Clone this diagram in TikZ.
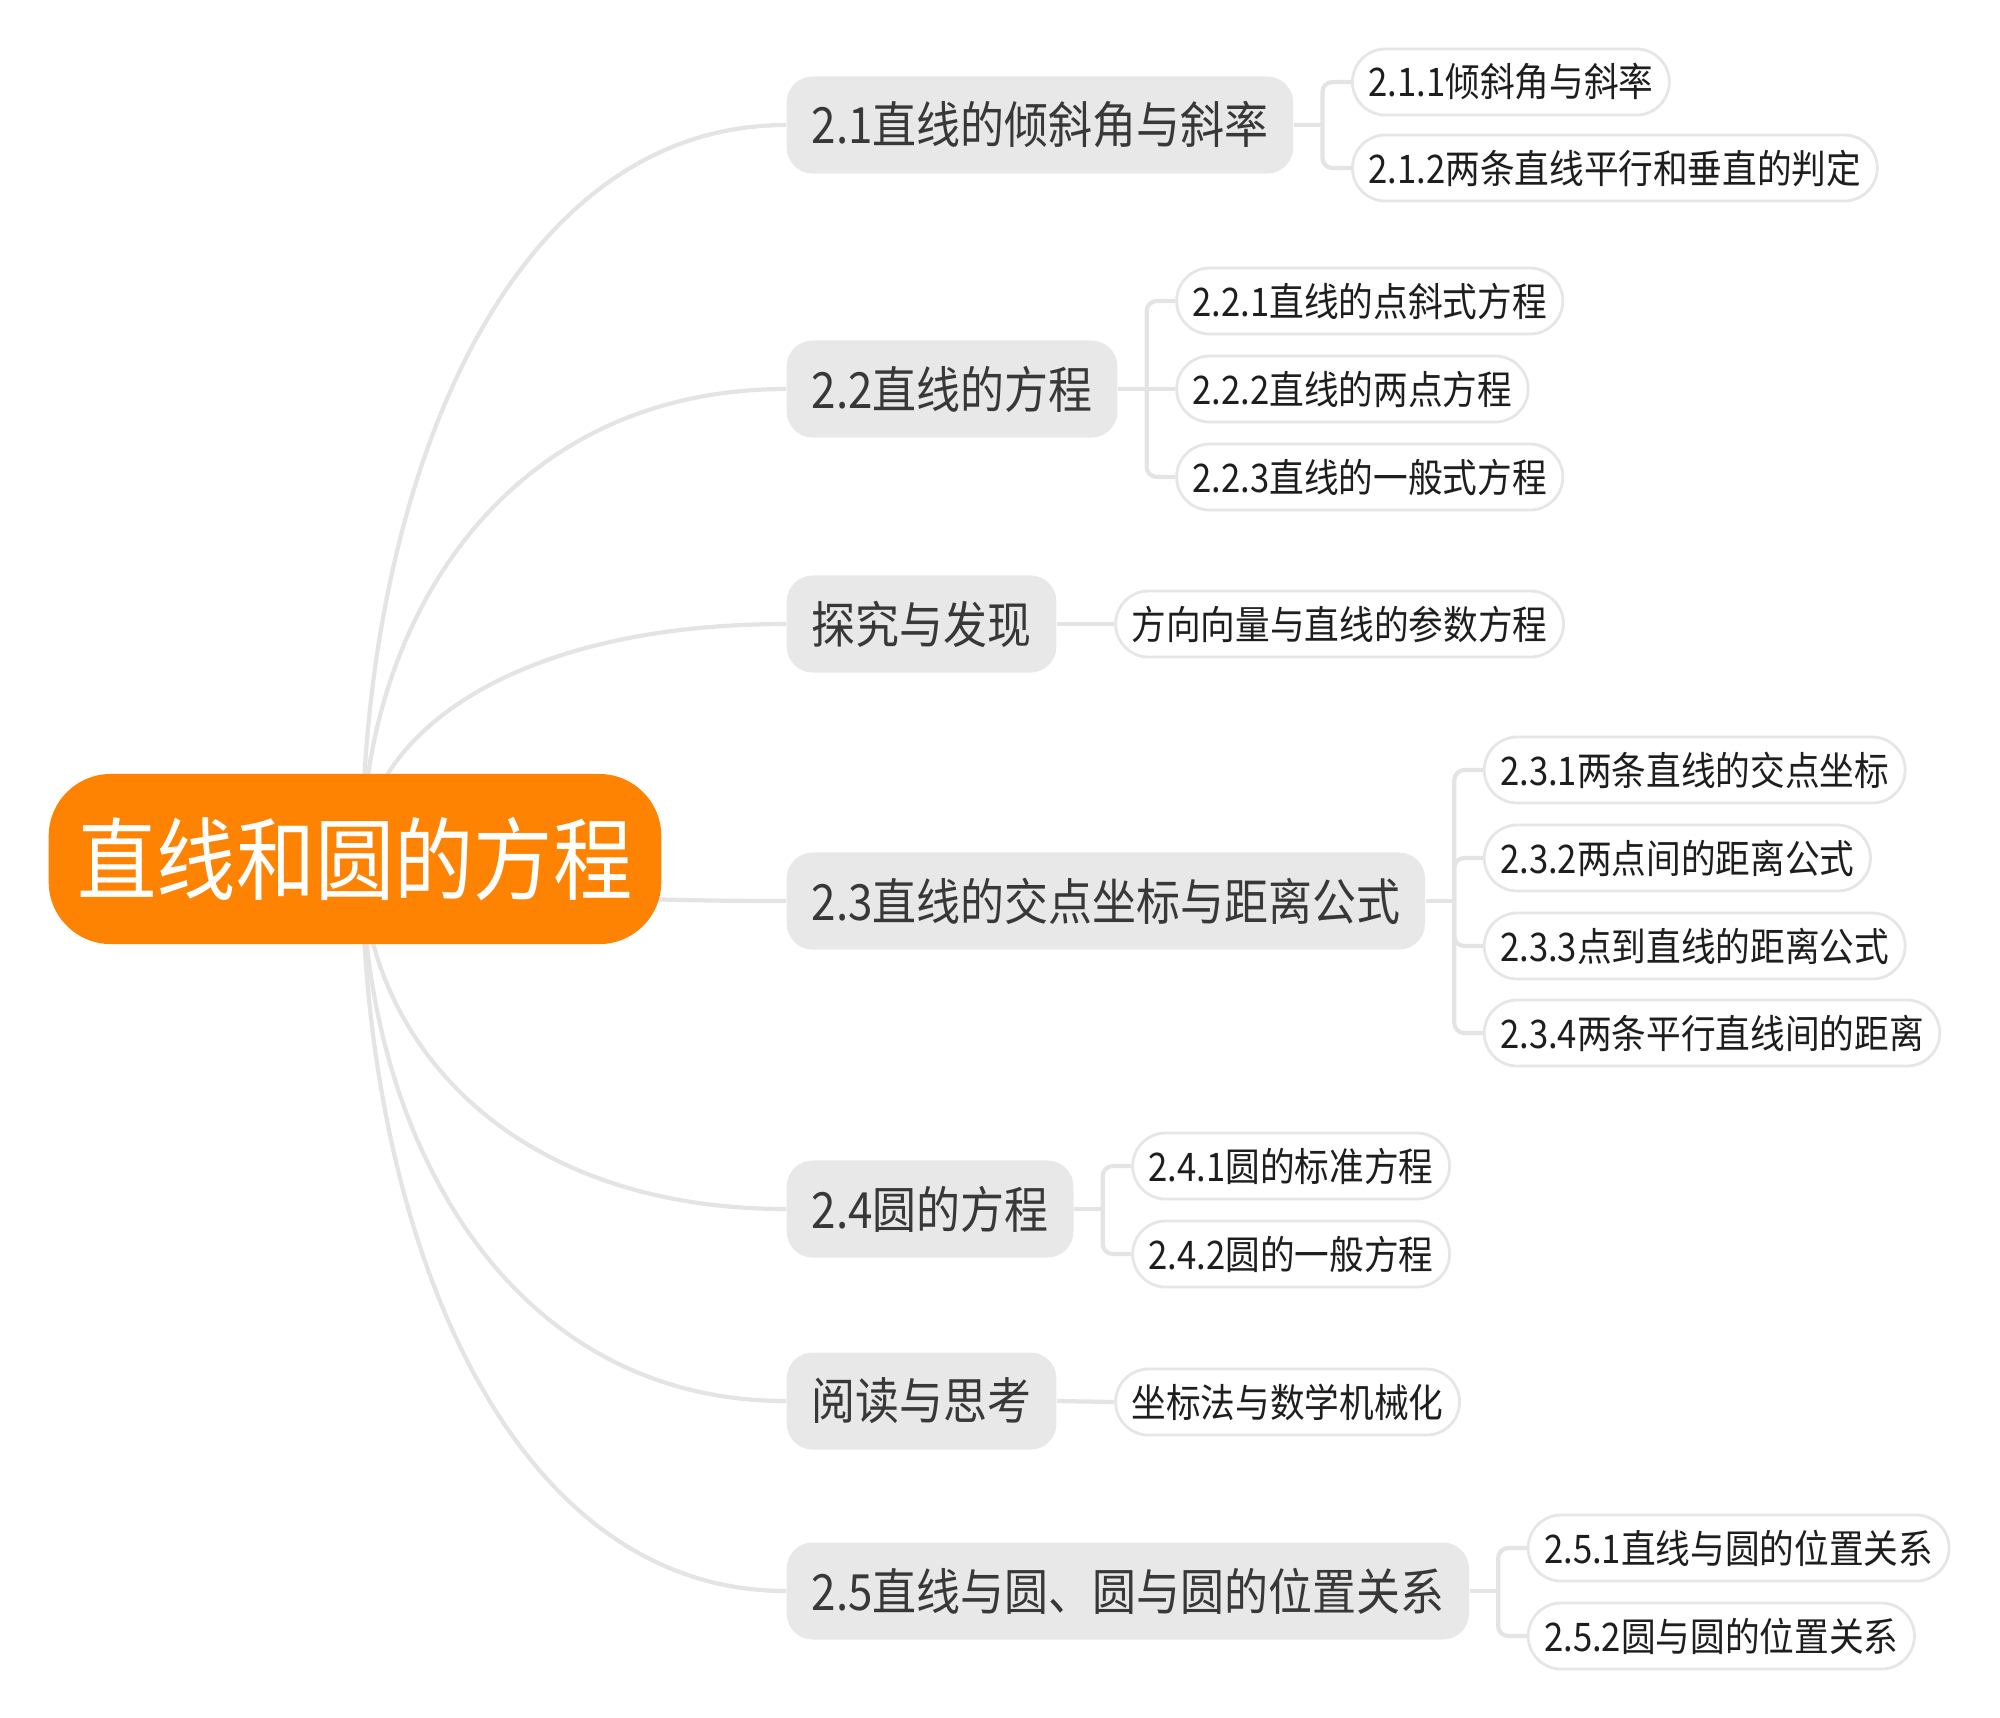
\documentclass[tikz,border=0pt]{standalone}
\usepackage{fontspec}
\newfontfamily\cjk[FakeStretch=0.88]{Noto Sans CJK SC}
\usetikzlibrary{backgrounds,calc}
\definecolor{rootorange}{HTML}{FF8303}
\definecolor{topicgray}{HTML}{E8E8E8}
\definecolor{linegray}{HTML}{E4E4E4}
\definecolor{leafborder}{HTML}{E6E6E6}
\definecolor{topictext}{HTML}{383838}
\definecolor{leaftext}{HTML}{1E1E1E}
\begin{document}
\begin{tikzpicture}[x=0.01cm,y=-0.01cm,
  rootbox/.style={fill=rootorange, rounded corners=0.62cm, minimum height=1.7cm, inner xsep=0.29cm, inner ysep=0pt, text=white, font=\cjk\fontsize{25.6pt}{28pt}\selectfont, anchor=west},
  topic/.style={fill=topicgray, rounded corners=0.26cm, minimum height=0.97cm, inner xsep=0.25cm, inner ysep=0pt, text=topictext, font=\cjk\fontsize{14.2pt}{16pt}\selectfont, anchor=west},
  leaf/.style={fill=white, draw=leafborder, line width=0.8pt, rounded corners=0.33cm, minimum height=0.66cm, inner xsep=0.16cm, inner ysep=0pt, text=leaftext, font=\cjk\fontsize{11.2pt}{13pt}\selectfont, anchor=west, xshift=0.285cm},
  conn/.style={draw=linegray, line width=1.2pt},
  bracket/.style={conn, rounded corners=0.1cm}]
\useasboundingbox (0,0) rectangle (2000,1717);

\node[rootbox] (root) at (48,859) {直线和圆的方程};
\coordinate (rs) at ([xshift=0.07cm]root.center);

\node[topic] (p21) at (786,125) {2.1直线的倾斜角与斜率};
\node[topic] (p22) at (786,389) {2.2直线的方程};
\node[topic] (p2x) at (786,624) {探究与发现};
\node[topic] (p23) at (786,901) {2.3直线的交点坐标与距离公式};
\node[topic] (p24) at (786,1209) {2.4圆的方程};
\node[topic] (p2y) at (786,1401) {阅读与思考};
\node[topic] (p25) at (786,1591) {2.5直线与圆、圆与圆的位置关系};

\coordinate (b21) at ([xshift=0.285cm]p21.east);
\coordinate (b22) at ([xshift=0.285cm]p22.east);
\coordinate (b2x) at ([xshift=0.285cm]p2x.east);
\coordinate (b23) at ([xshift=0.285cm]p23.east);
\coordinate (b24) at ([xshift=0.285cm]p24.east);
\coordinate (b2y) at ([xshift=0.285cm]p2y.east);
\coordinate (b25) at ([xshift=0.285cm]p25.east);

\node[leaf] (c211) at (b21 |- 0,82) {2.1.1倾斜角与斜率};
\node[leaf] (c212) at (b21 |- 0,168) {2.1.2两条直线平行和垂直的判定};
\node[leaf] (c221) at (b22 |- 0,301) {2.2.1直线的点斜式方程};
\node[leaf] (c222) at (b22 |- 0,389) {2.2.2直线的两点方程};
\node[leaf] (c223) at (b22 |- 0,477) {2.2.3直线的一般式方程};
\node[leaf] (c2x) at (b2x |- 0,624) {方向向量与直线的参数方程};
\node[leaf] (c231) at (b23 |- 0,770) {2.3.1两条直线的交点坐标};
\node[leaf] (c232) at (b23 |- 0,858) {2.3.2两点间的距离公式};
\node[leaf] (c233) at (b23 |- 0,946) {2.3.3点到直线的距离公式};
\node[leaf] (c234) at (b23 |- 0,1033) {2.3.4两条平行直线间的距离};
\node[leaf] (c241) at (b24 |- 0,1166) {2.4.1圆的标准方程};
\node[leaf] (c242) at (b24 |- 0,1254) {2.4.2圆的一般方程};
\node[leaf] (c2y) at (b2y |- 0,1402) {坐标法与数学机械化};
\node[leaf] (c251) at (b25 |- 0,1548) {2.5.1直线与圆的位置关系};
\node[leaf] (c252) at (b25 |- 0,1636) {2.5.2圆与圆的位置关系};

\begin{scope}[on background layer]
  \foreach \p in {p21,p22,p2x,p23,p24,p2y,p25}
    \draw[conn] (rs) .. controls ($(rs)!0.5!(rs |- \p.west)$) and ($(rs |- \p.west)!0.333!(\p.west)$) .. (\p.west);
  \draw[conn] (p21.east) -- (b21);
  \draw[conn] (p22.east) -- (b22);
  \draw[conn] (p23.east) -- (b23);
  \draw[conn] (p24.east) -- (b24);
  \draw[conn] (p25.east) -- (b25);
  \draw[conn] (p2x.east) -- (c2x.west);
  \draw[conn] (p2y.east) -- (c2y.west);
  \draw[bracket] (b21) |- (c211.west);
  \draw[bracket] (b21) |- (c212.west);
  \draw[bracket] (b22) |- (c221.west);
  \draw[bracket] (b22) -- (c222.west);
  \draw[bracket] (b22) |- (c223.west);
  \draw[bracket] (b23) |- (c231.west);
  \draw[bracket] (b23) |- (c232.west);
  \draw[bracket] (b23) |- (c233.west);
  \draw[bracket] (b23) |- (c234.west);
  \draw[bracket] (b24) |- (c241.west);
  \draw[bracket] (b24) |- (c242.west);
  \draw[bracket] (b25) |- (c251.west);
  \draw[bracket] (b25) |- (c252.west);
\end{scope}
\end{tikzpicture}
\end{document}
